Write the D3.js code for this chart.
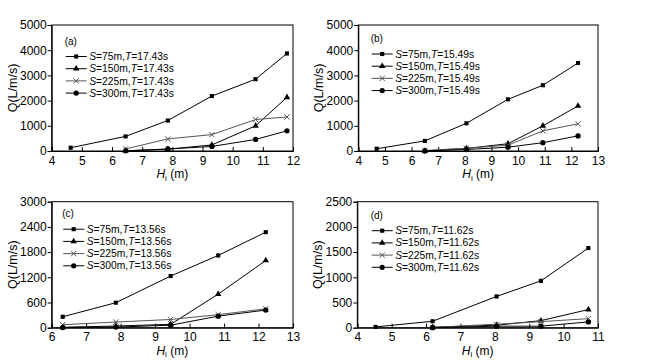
<!DOCTYPE html>
<html>
<head>
<meta charset="utf-8">
<script src="https://cdn.jsdelivr.net/npm/d3@7"></script>
<style>
  body { margin: 0; background: #fff; }
  text { font-family: Arial, "Liberation Sans", sans-serif; }
</style>
</head>
<body>
<svg id="chart"></svg>
<script>
var width = 649,
    height = 360

// spacing S (m) and wave period T (s) of each panel
var spacings = ["75", "150", "225", "300"]
var periodsT = ["17.43", "15.49", "13.56", "11.62"]
var panelTags = ["(a)", "(b)", "(c)", "(d)"]

// (a) T=17.43s
var hiA = [4.63, 6.45, 7.85, 9.31, 10.76, 11.8]
var qA75 = [130, 580, 1210, 2180, 2850, 3870]
var qA150 = [null, 10, 70, 240, 1000, 2130]
var qA225 = [null, 80, 480, 650, 1250, 1350]
var qA300 = [null, 5, 80, 180, 460, 800]

// (b) T=15.49s
var hiB = [4.69, 6.5, 8.06, 9.62, 10.93, 12.25]
var qB75 = [90, 400, 1100, 2050, 2610, 3490]
var qB150 = [null, 5, 100, 290, 1000, 1790]
var qB225 = [null, 20, 110, 230, 800, 1080]
var qB300 = [null, 0, 60, 150, 330, 600]

// (c) T=13.56s
var hiC = [6.32, 7.86, 9.45, 10.83, 12.21]
var qC75 = [260, 595, 1230, 1720, 2275]
var qC150 = [10, 40, 80, 800, 1600]
var qC225 = [70, 135, 195, 310, 450]
var qC300 = [5, 15, 60, 275, 420]

// (d) T=11.62s
var hiD = [4.53, 6.19, 8.05, 9.34, 10.72]
var qD75 = [15, 128, 620, 930, 1580]
var qD150 = [null, 10, 50, 140, 360]
var qD225 = [null, 5, 70, 120, 180]
var qD300 = [null, 0, 30, 30, 115]

// axis settings
var xDomains = [[4, 12], [4, 13], [6, 13], [4, 11]]
var yDomains = [[0, 5000], [0, 5000], [0, 3000], [0, 2500]]
var yTicks = [
    [0, 1000, 2000, 3000, 4000, 5000],
    [0, 1000, 2000, 3000, 4000, 5000],
    [0, 600, 1200, 1800, 2400, 3000],
    [0, 500, 1000, 1500, 2000, 2500]
]

var panels = [
    { left: 51.7, top: 25, w: 241.3, h: 126, hi: hiA, q: [qA75, qA150, qA225, qA300], legY: 31.5, legX: 14 },
    { left: 358.3, top: 25, w: 239.7, h: 126, hi: hiB, q: [qB75, qB150, qB225, qB300], legY: 29, legX: 13.4 },
    { left: 51.7, top: 201.7, w: 241.3, h: 126, hi: hiC, q: [qC75, qC150, qC225, qC300], legY: 27.5, legX: 11.5 },
    { left: 357.3, top: 201.7, w: 240.7, h: 126, hi: hiD, q: [qD75, qD150, qD225, qD300], legY: 29, legX: 14.4 }
]

var symbols = [d3.symbolSquare, d3.symbolTriangle, d3.symbolX, d3.symbolCircle]
var symSizes = [17, 18, 20, 22]
var lineColors = ["#000", "#000", "#555", "#000"]

var svg = d3.select("#chart")
    .attr("width", width)
    .attr("height", height)

svg.append("rect")
    .attr("width", width)
    .attr("height", height)
    .attr("fill", "#fff")

function drawMarker(g, k, x, y) {
    var p = g.append("path")
        .attr("transform", "translate(" + x + "," + y + ")")
        .attr("d", d3.symbol().type(symbols[k]).size(symSizes[k])())
    if (k == 2) {
        p.attr("fill", "none").attr("stroke", lineColors[k]).attr("stroke-width", 1)
    } else {
        p.attr("fill", "#000")
    }
}

panels.forEach(function (p, i) {
    var g = svg.append("g")
        .attr("transform", "translate(" + p.left + "," + p.top + ")")

    var x = d3.scaleLinear().domain(xDomains[i]).range([0, p.w])
    var y = d3.scaleLinear().domain(yDomains[i]).range([p.h, 0])

    // frame
    g.append("rect")
        .attr("width", p.w)
        .attr("height", p.h)
        .attr("fill", "none")
        .attr("stroke", "#000")
        .attr("stroke-width", 1)

    // x axis, ticks pointing inward
    var xTickVals = d3.range(xDomains[i][0], xDomains[i][1] + 1)
    var xa = g.append("g")
        .attr("transform", "translate(0," + p.h + ")")
        .call(d3.axisBottom(x).tickValues(xTickVals).tickSize(-4).tickPadding(5).tickFormat(d3.format("d")))
    // y axis, ticks outward
    var ya = g.append("g")
        .call(d3.axisLeft(y).tickValues(yTicks[i]).tickSize(4).tickPadding(1).tickFormat(d3.format("d")))

    ;[xa, ya].forEach(function (a) {
        a.select(".domain").attr("stroke", "#000")
        a.selectAll(".tick line").attr("stroke", "#000")
        a.selectAll(".tick text")
            .attr("fill", "#000")
            .style("font-size", "12px")
            .style("font-family", "Arial, 'Liberation Sans', sans-serif")
    })

    // axis titles
    var xt = g.append("text")
        .attr("x", p.w / 2)
        .attr("y", p.h + 27)
        .attr("text-anchor", "middle")
        .style("font-size", "12px")
    xt.append("tspan").attr("font-style", "italic").text("H")
    xt.append("tspan").attr("dy", 2.5).style("font-size", "8px").text("i")
    xt.append("tspan").attr("dy", -2.5).text(" (m)")

    g.append("text")
        .attr("transform", "translate(-35," + (p.h / 2) + ") rotate(-90)")
        .attr("text-anchor", "middle")
        .style("font-size", "12.5px")
        .text("Q(L/m/s)")

    // series
    p.q.forEach(function (vals, k) {
        var pts = p.hi.map(function (h, j) { return [h, vals[j]] })
            .filter(function (d) { return d[1] != null })
        var line = d3.line()
            .x(function (d) { return x(d[0]) })
            .y(function (d) { return y(d[1]) })
        g.append("path")
            .datum(pts)
            .attr("d", line)
            .attr("fill", "none")
            .attr("stroke", lineColors[k])
            .attr("stroke-width", 1)
        pts.forEach(function (d) {
            drawMarker(g, k, x(d[0]), y(d[1]))
        })
    })

    // legend
    var leg = g.append("g").attr("transform", "translate(" + p.legX + "," + p.legY + ")")
    leg.append("text")
        .attr("x", -1)
        .attr("y", -12)
        .style("font-size", "10px")
        .text(panelTags[i])
    spacings.forEach(function (s, k) {
        var yy = k * 12.2
        leg.append("line")
            .attr("x1", 0).attr("x2", 21)
            .attr("y1", yy).attr("y2", yy)
            .attr("stroke", lineColors[k])
            .attr("stroke-width", 1)
        drawMarker(leg, k, 10.5, yy)
        var t = leg.append("text")
            .attr("x", 23.5)
            .attr("y", yy + 3.6)
            .style("font-size", "10.3px")
        t.append("tspan").attr("font-style", "italic").text("S")
        t.append("tspan").text("=" + s + "m,")
        t.append("tspan").attr("font-style", "italic").text("T")
        t.append("tspan").text("=" + periodsT[i] + "s")
    })
})
</script>
</body>
</html>
